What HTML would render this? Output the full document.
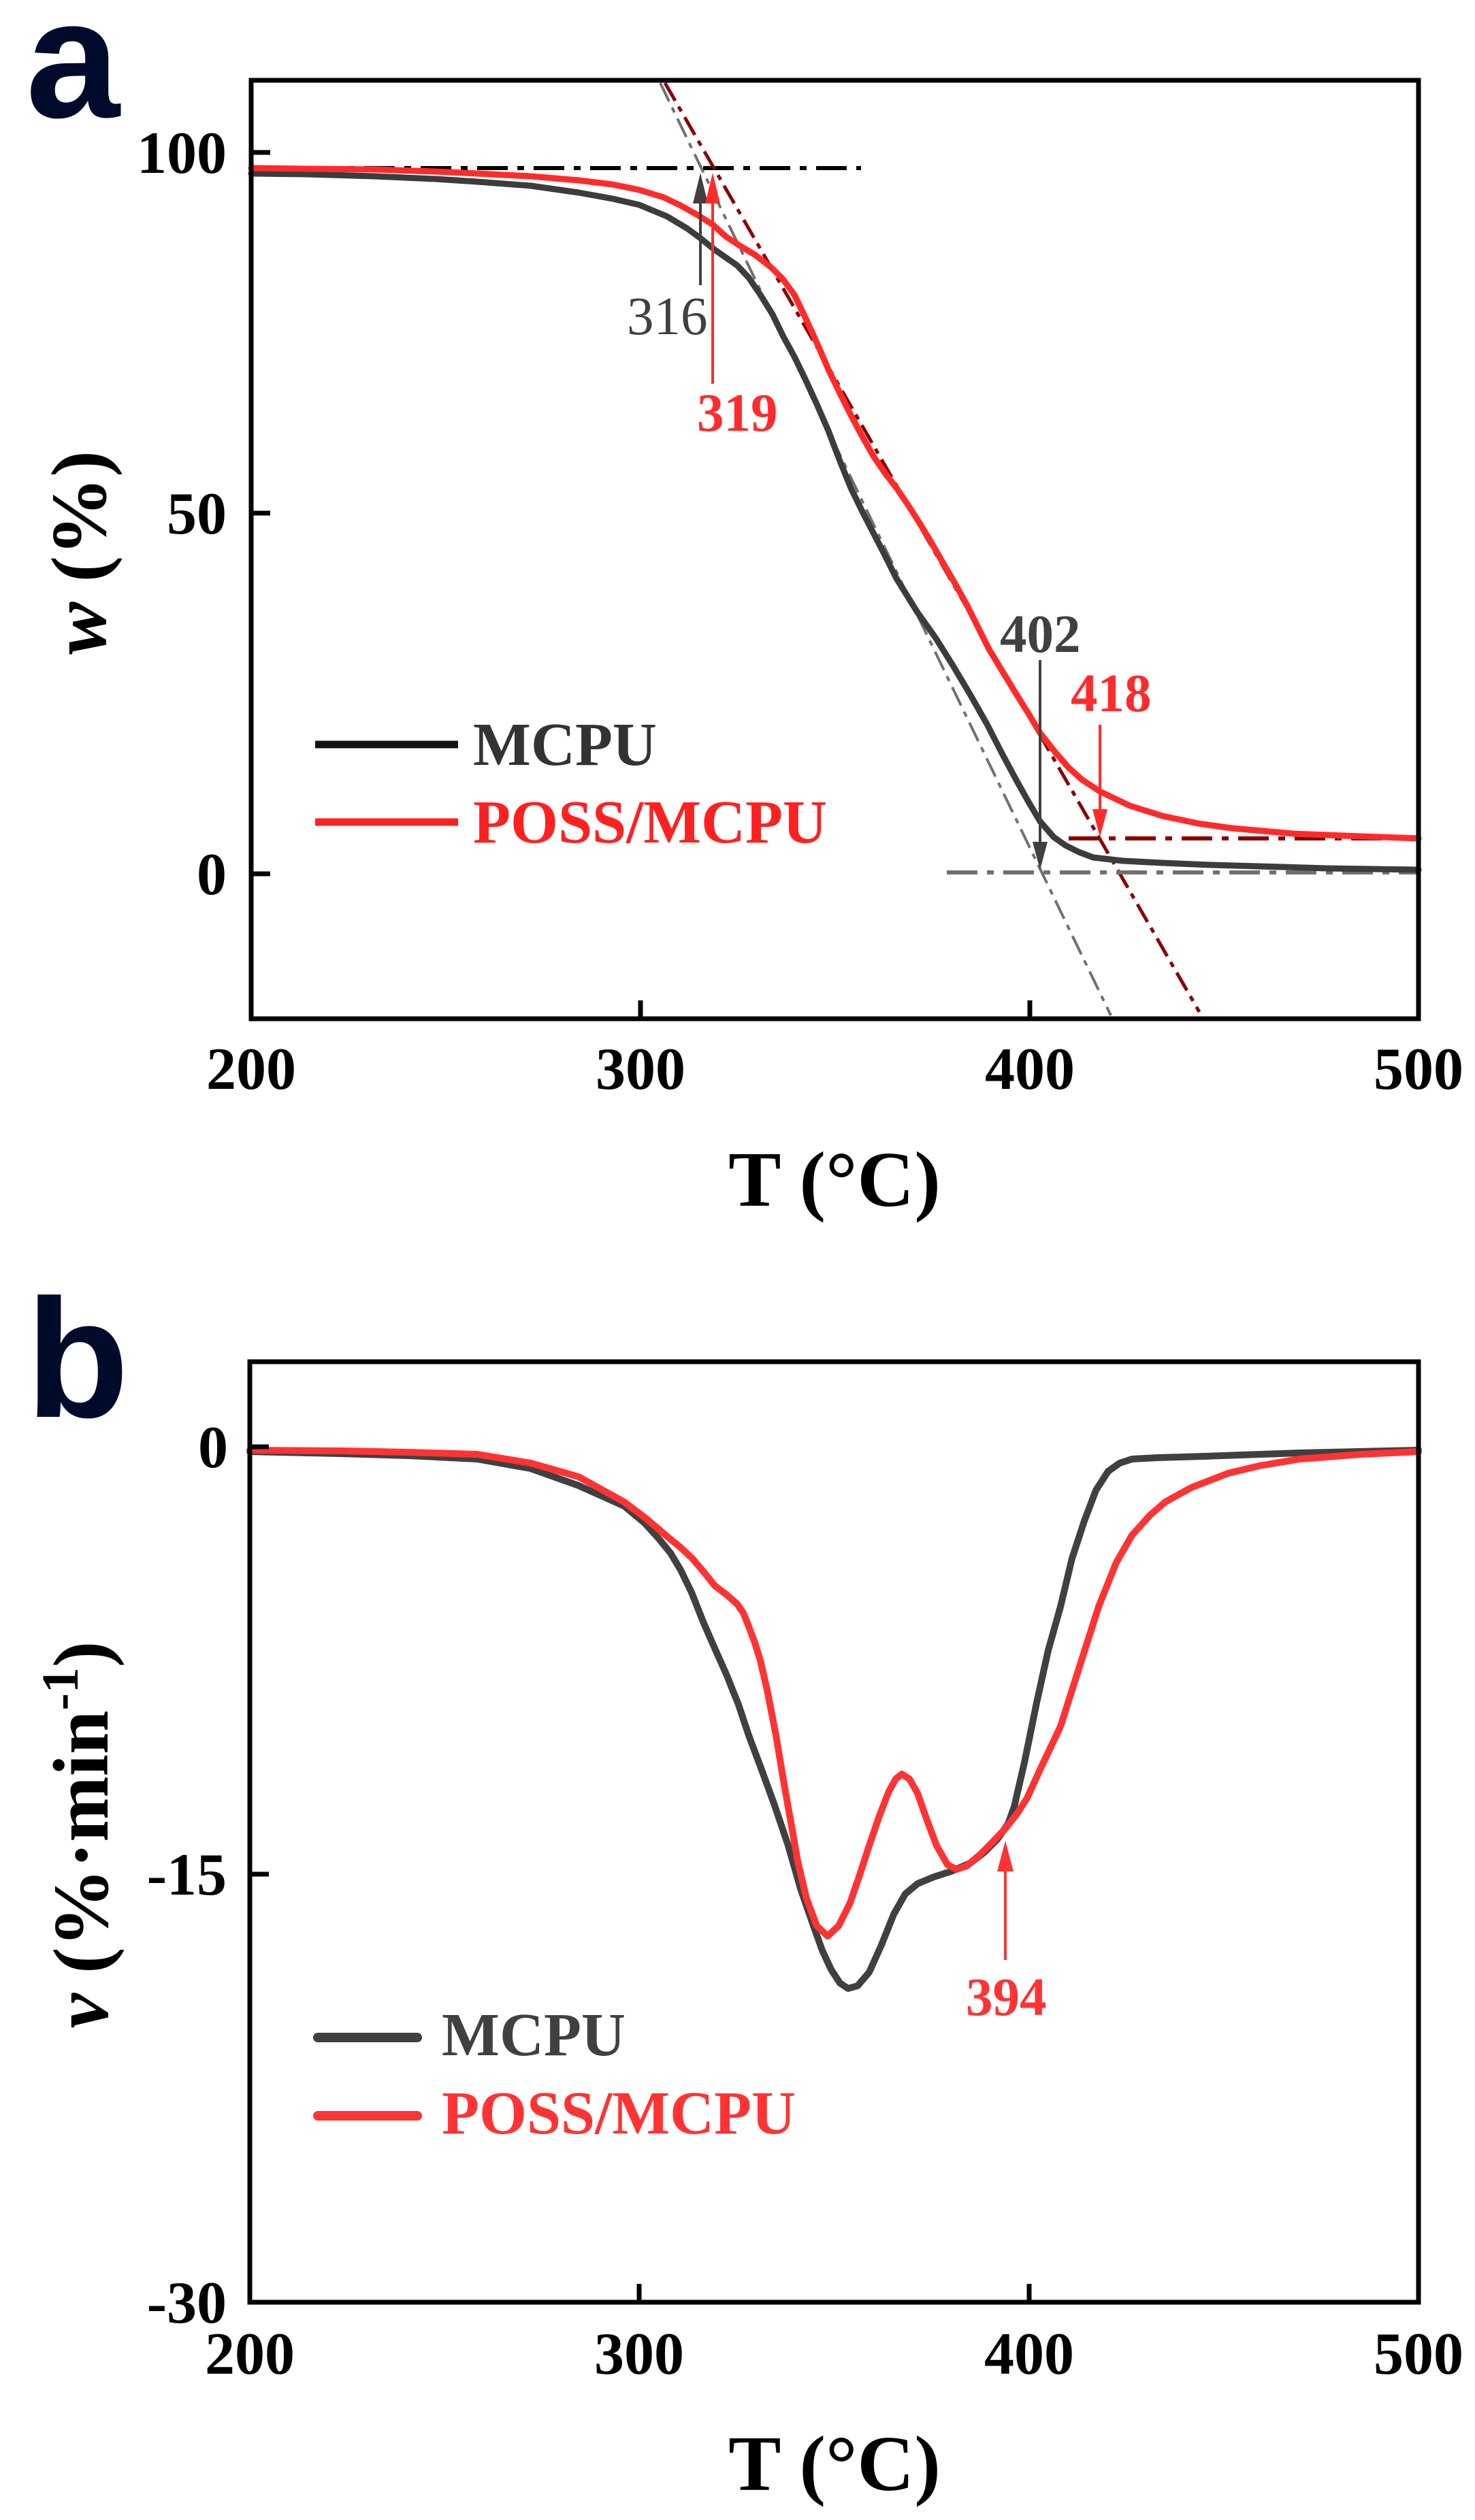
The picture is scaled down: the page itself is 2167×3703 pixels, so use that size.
<!DOCTYPE html>
<html><head><meta charset="utf-8"><style>
html,body{margin:0;padding:0;background:#fff;}
svg{display:block;}
text{font-family:"Liberation Serif","Times New Roman",serif;}
</style></head><body>
<svg width="2167" height="3703" viewBox="0 0 2167 3703" xmlns="http://www.w3.org/2000/svg">
<rect width="2167" height="3703" fill="#fff"/>

<!-- ============ PANEL A ============ -->
<text x="38" y="172" font-weight="bold" font-size="248" fill="#000b2b" style="font-family:'Liberation Sans',Arial,sans-serif">a</text>

<!-- tangent lines -->
<line x1="369" y1="247" x2="1265" y2="247" stroke="#000" stroke-width="6" stroke-dasharray="45 14 10 14"/>
<line x1="970" y1="122" x2="1632" y2="1492" stroke="#707070" stroke-width="4" stroke-dasharray="30 10 8 10"/>
<line x1="977" y1="122" x2="1762" y2="1487" stroke="#8b0000" stroke-width="5" stroke-dasharray="30 10 8 10"/>
<line x1="1391" y1="1282" x2="2084" y2="1282" stroke="#707070" stroke-width="6" stroke-dasharray="45 14 10 14"/>
<line x1="1570" y1="1232" x2="2084" y2="1232" stroke="#8b0000" stroke-width="6" stroke-dasharray="45 14 10 14"/>

<!-- MCPU curve -->
<polyline fill="none" stroke="#3c3c3c" stroke-width="9" stroke-linejoin="round" stroke-linecap="round"
points="369,255 450,256 550,259 640,263 701,267 780,273 850,283 900,292 939,301 980,318 1010,336 1029,350 1050,367 1083,390 1100,408 1117,433 1135,462 1150,493 1167,524 1183,557 1200,594 1217,633 1233,675 1250,717 1266,750 1283,783 1300,816 1317,850 1348,900 1375,938 1400,978 1425,1020 1450,1064 1472,1107 1494,1148 1512,1180 1528,1207 1548,1230 1565,1242 1585,1252 1606,1260 1650,1265 1708,1268 1780,1271 1850,1273 1950,1276 2084,1278"/>
<!-- POSS/MCPU curve -->
<polyline fill="none" stroke="#ff2b2b" stroke-width="9" stroke-linejoin="round" stroke-linecap="round"
points="369,247 450,248 550,249 640,252 701,255 780,259 850,265 900,271 939,279 975,290 1000,302 1025,316 1047,330 1067,348 1090,363 1110,375 1133,393 1150,410 1167,433 1180,460 1193,488 1205,515 1217,543 1233,576 1250,610 1266,640 1283,670 1300,695 1317,717 1334,742 1350,767 1367,795 1383,823 1400,852 1420,888 1437,922 1453,954 1470,982 1490,1015 1510,1047 1528,1077 1550,1105 1570,1128 1590,1146 1616,1163 1660,1184 1708,1199 1760,1210 1810,1217 1900,1225 2000,1229 2084,1232"/>

<!-- arrows -->
<line x1="1029" y1="419" x2="1029" y2="295" stroke="#404040" stroke-width="4"/>
<polygon points="1029,254 1018,299 1040,299" fill="#404040"/>
<line x1="1047" y1="564" x2="1047" y2="295" stroke="#ff2b2b" stroke-width="4"/>
<polygon points="1047,254 1036,299 1058,299" fill="#ff2b2b"/>
<line x1="1528" y1="970" x2="1528" y2="1241" stroke="#404040" stroke-width="4"/>
<polygon points="1528,1278 1517,1237 1539,1237" fill="#404040"/>
<line x1="1616" y1="1065" x2="1616" y2="1193" stroke="#ff2b2b" stroke-width="4"/>
<polygon points="1616,1230 1605,1189 1627,1189" fill="#ff2b2b"/>

<text x="921" y="491" font-size="79" fill="#404040">316</text>
<text x="1024" y="633" font-size="79" font-weight="bold" fill="#ff2b2b">319</text>
<text x="1469" y="958" font-size="79" font-weight="bold" fill="#404040">402</text>
<text x="1573" y="1045" font-size="79" font-weight="bold" fill="#ff2b2b">418</text>

<!-- legend a -->
<line x1="463" y1="1094" x2="673" y2="1094" stroke="#111" stroke-width="11"/>
<text x="695" y="1124" font-size="90" font-weight="bold" fill="#333">MCPU</text>
<line x1="463" y1="1208" x2="673" y2="1208" stroke="#ff2020" stroke-width="11"/>
<text x="695" y="1238" font-size="90" font-weight="bold" fill="#ff2020">POSS/MCPU</text>

<!-- frame a -->
<rect x="369" y="118" width="1715" height="1379" fill="none" stroke="#000" stroke-width="7"/>
<g stroke="#000" stroke-width="7">
<line x1="369" y1="224" x2="397" y2="224"/>
<line x1="369" y1="754" x2="397" y2="754"/>
<line x1="369" y1="1284" x2="397" y2="1284"/>
<line x1="941" y1="1497" x2="941" y2="1470"/>
<line x1="1513" y1="1497" x2="1513" y2="1470"/>
</g>
<g font-size="88" font-weight="bold" fill="#000" text-anchor="end">
<text x="333" y="254">100</text>
<text x="333" y="784">50</text>
<text x="333" y="1314">0</text>
</g>
<g font-size="88" font-weight="bold" fill="#000" text-anchor="middle">
<text x="369" y="1600">200</text>
<text x="941" y="1600">300</text>
<text x="1513" y="1600">400</text>
<text x="2084" y="1600">500</text>
</g>
<text x="1226" y="1772" font-size="116" font-weight="bold" text-anchor="middle" fill="#000">T (°C)</text>
<text transform="translate(155,812) rotate(-90)" font-size="116" font-weight="bold" text-anchor="middle" fill="#000"><tspan font-style="italic">w</tspan> (%)</text>

<!-- ============ PANEL B ============ -->
<text x="38" y="2082" font-weight="bold" font-size="248" fill="#000b2b" style="font-family:'Liberation Sans',Arial,sans-serif">b</text>

<polyline fill="none" stroke="#404040" stroke-width="10" stroke-linejoin="round" stroke-linecap="round"
points="367,2133 500,2136 600,2139 701,2144 780,2158 850,2183 917,2213 947,2238 967,2260 985,2282 1000,2307 1016,2340 1033,2383 1050,2422 1067,2460 1085,2505 1100,2550 1118,2598 1137,2650 1158,2712 1176,2775 1193,2824 1208,2866 1221,2894 1234,2914 1246,2922 1260,2918 1277,2898 1295,2858 1313,2813 1330,2783 1348,2768 1372,2758 1397,2750 1425,2738 1446,2722 1465,2703 1481,2680 1490,2655 1505,2590 1523,2502 1540,2425 1558,2361 1575,2290 1593,2235 1610,2190 1628,2162 1645,2150 1663,2144 1700,2142 1768,2140 1909,2135 2084,2131"/>
<polyline fill="none" stroke="#ff3333" stroke-width="10" stroke-linejoin="round" stroke-linecap="round"
points="367,2131 500,2132 600,2134 701,2137 780,2150 850,2170 917,2207 950,2232 983,2260 1000,2274 1017,2290 1034,2310 1050,2330 1067,2343 1083,2357 1092,2370 1100,2390 1109,2414 1117,2440 1127,2483 1140,2550 1150,2610 1157,2650 1165,2695 1172,2735 1185,2790 1200,2830 1216,2845 1232,2830 1249,2796 1263,2755 1277,2712 1292,2668 1306,2632 1316,2614 1325,2607 1336,2614 1348,2635 1362,2675 1376,2712 1392,2740 1405,2747 1420,2742 1439,2726 1458,2707 1477,2687 1495,2664 1509,2642 1530,2596 1558,2537 1585,2452 1614,2361 1640,2296 1663,2256 1690,2226 1712,2207 1750,2186 1804,2165 1850,2154 1909,2144 2000,2137 2084,2133"/>

<line x1="1477" y1="2880" x2="1477" y2="2746" stroke="#ff3333" stroke-width="4"/>
<polygon points="1477,2705 1465,2750 1489,2750" fill="#ff3333"/>
<text x="1419" y="2961" font-size="79" font-weight="bold" fill="#ff3333">394</text>

<!-- legend b -->
<line x1="467" y1="2994" x2="613" y2="2994" stroke="#404040" stroke-width="14" stroke-linecap="round"/>
<text x="649" y="3020" font-size="90" font-weight="bold" fill="#404040">MCPU</text>
<line x1="467" y1="3109" x2="613" y2="3109" stroke="#ff3333" stroke-width="14" stroke-linecap="round"/>
<text x="649" y="3135" font-size="90" font-weight="bold" fill="#ff3333">POSS/MCPU</text>

<rect x="367" y="2001" width="1717" height="1382" fill="none" stroke="#000" stroke-width="7"/>
<g stroke="#000" stroke-width="7">
<line x1="367" y1="2126" x2="395" y2="2126"/>
<line x1="367" y1="2754" x2="395" y2="2754"/>
<line x1="939" y1="3383" x2="939" y2="3356"/>
<line x1="1512" y1="3383" x2="1512" y2="3356"/>
</g>
<g font-size="88" font-weight="bold" fill="#000" text-anchor="end">
<text x="335" y="2156">0</text>
<text x="333" y="2784">-15</text>
<text x="333" y="3413">-30</text>
</g>
<g font-size="88" font-weight="bold" fill="#000" text-anchor="middle">
<text x="367" y="3488">200</text>
<text x="939" y="3488">300</text>
<text x="1512" y="3488">400</text>
<text x="2084" y="3488">500</text>
</g>
<text x="1226" y="3659" font-size="116" font-weight="bold" text-anchor="middle" fill="#000">T (°C)</text>
<text transform="translate(158,2696) rotate(-90)" font-size="116" font-weight="bold" text-anchor="middle" fill="#000"><tspan font-style="italic">v</tspan> (%·min<tspan font-size="76" dy="-44">-1</tspan><tspan dy="44">)</tspan></text>
</svg>
</body></html>
